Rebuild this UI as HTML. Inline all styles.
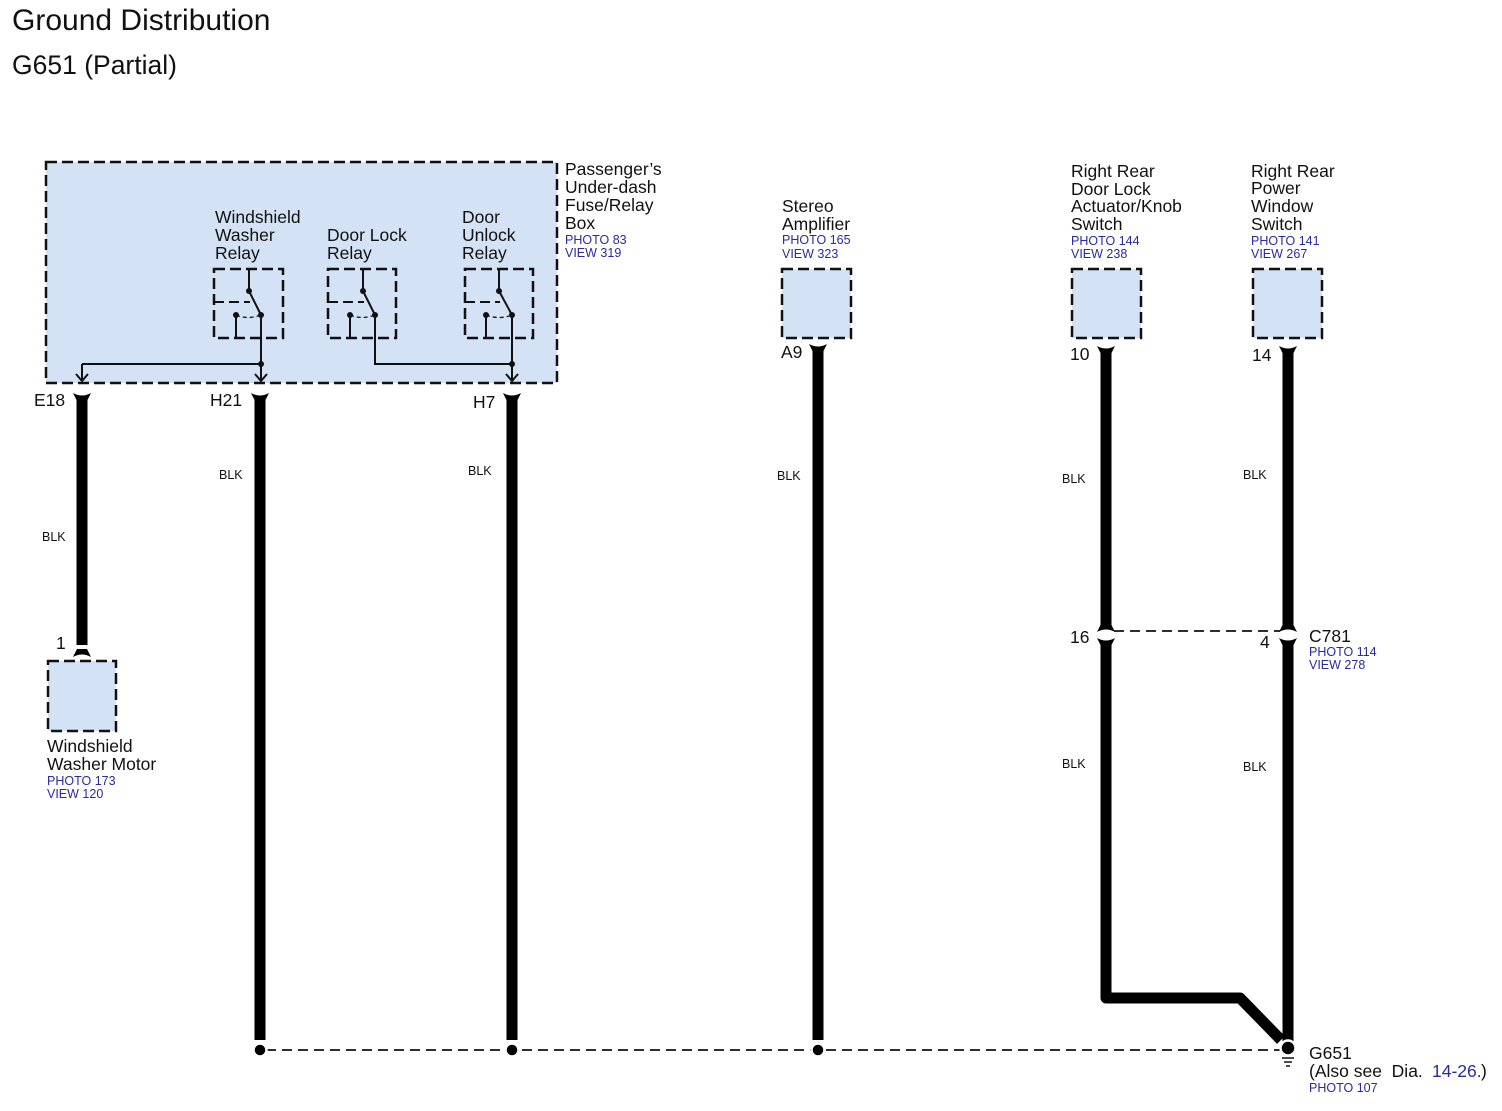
<!DOCTYPE html>
<html><head><meta charset="utf-8"><style>
html,body{margin:0;padding:0;background:#fff;}
svg{display:block;font-family:"Liberation Sans",Arial,sans-serif;}
.l{font-size:17.5px;fill:#111;}
.b{font-size:12.5px;fill:#2a2aa0;}
.k{font-size:12.5px;fill:#111;}
.box{fill:#d3e3f5;stroke:#111;stroke-width:2.5;stroke-dasharray:11 5;}
.w{stroke:#000;stroke-width:11;fill:none;}
.t{stroke:#111;stroke-width:2;fill:none;}
</style></head><body>
<svg width="1502" height="1111" viewBox="0 0 1502 1111">
<defs>
<path id="ct" d="M-9 0 Q0 5 9 0 L5 8 L-5 8 Z" fill="#000"/>
<path id="cb" d="M-5 -8 L5 -8 L9 0 Q0 -5 -9 0 Z" fill="#000"/>
</defs>
<text x="12" y="30" style="font-size:30px" fill="#111">Ground Distribution</text>
<text x="12" y="74" style="font-size:26.5px" fill="#111">G651 (Partial)</text>

<rect x="46" y="162" width="511" height="221" class="box"/>
<text class="l"><tspan x="565" y="175">Passenger’s</tspan><tspan x="565" y="193">Under-dash</tspan><tspan x="565" y="211">Fuse/Relay</tspan><tspan x="565" y="229">Box</tspan></text>
<text class="b"><tspan x="565" y="244">PHOTO 83</tspan><tspan x="565" y="257">VIEW 319</tspan></text>

<text class="l"><tspan x="215" y="223">Windshield</tspan><tspan x="215" y="241">Washer</tspan><tspan x="215" y="259">Relay</tspan></text>
<text class="l"><tspan x="327" y="241">Door Lock</tspan><tspan x="327" y="259">Relay</tspan></text>
<text class="l"><tspan x="462" y="223">Door</tspan><tspan x="462" y="241">Unlock</tspan><tspan x="462" y="259">Relay</tspan></text>

<rect x="214" y="269" width="69" height="69" fill="none" stroke="#111" stroke-width="2.5" stroke-dasharray="11 5"/>
<rect x="328" y="269" width="68" height="69" fill="none" stroke="#111" stroke-width="2.5" stroke-dasharray="11 5"/>
<rect x="465" y="269" width="68" height="69" fill="none" stroke="#111" stroke-width="2.5" stroke-dasharray="11 5"/>
<g class="t">
<path d="M249 269 V291 L261 315 M236 315 V338"/>
<path d="M363 269 V291 L375 315 M350 315 V338"/>
<path d="M499 269 V291 L512 315 M486 315 V338"/>
<path d="M214 302 H250 M328 302 H364 M465 302 H500" stroke-dasharray="10 5"/>
<path d="M236 315 Q248 320 261 315 M350 315 Q362 320 375 315 M486 315 Q499 320 512 315" stroke-width="1.3" stroke-dasharray="4 3"/>
<path d="M261 315 V380 M82 364 H261 M82 364 V380"/>
<path d="M375 315 V364 H512 M512 315 V380"/>
<path d="M76 374 L82 381 L88 374 M255 374 L261 381 L267 374 M506 374 L512 381 L518 374"/>
</g>
<g fill="#111">
<circle cx="249" cy="291" r="3"/><circle cx="261" cy="315" r="3"/><circle cx="236" cy="315" r="3"/>
<circle cx="363" cy="291" r="3"/><circle cx="375" cy="315" r="3"/><circle cx="350" cy="315" r="3"/>
<circle cx="499" cy="291" r="3"/><circle cx="512" cy="315" r="3"/><circle cx="486" cy="315" r="3"/>
<circle cx="261" cy="364" r="3"/><circle cx="512" cy="364" r="3"/>
</g>

<rect x="782" y="269" width="69" height="69" class="box"/>
<rect x="1072" y="269" width="69" height="69" class="box"/>
<rect x="1253" y="269" width="69" height="69" class="box"/>
<rect x="48" y="661" width="68" height="70" class="box"/>

<text class="l"><tspan x="782" y="212">Stereo</tspan><tspan x="782" y="230">Amplifier</tspan></text>
<text class="b"><tspan x="782" y="244">PHOTO 165</tspan><tspan x="782" y="258">VIEW 323</tspan></text>
<text class="l"><tspan x="1071" y="177">Right Rear</tspan><tspan x="1071" y="195">Door Lock</tspan><tspan x="1071" y="212">Actuator/Knob</tspan><tspan x="1071" y="230">Switch</tspan></text>
<text class="b"><tspan x="1071" y="245">PHOTO 144</tspan><tspan x="1071" y="258">VIEW 238</tspan></text>
<text class="l"><tspan x="1251" y="177">Right Rear</tspan><tspan x="1251" y="194">Power</tspan><tspan x="1251" y="212">Window</tspan><tspan x="1251" y="230">Switch</tspan></text>
<text class="b"><tspan x="1251" y="245">PHOTO 141</tspan><tspan x="1251" y="258">VIEW 267</tspan></text>
<text class="l"><tspan x="47" y="752">Windshield</tspan><tspan x="47" y="770">Washer Motor</tspan></text>
<text class="b"><tspan x="47" y="785">PHOTO 173</tspan><tspan x="47" y="798">VIEW 120</tspan></text>

<path class="w" d="M82 399 V645"/>
<path class="w" d="M260 399 V1040"/>
<path class="w" d="M512 399 V1040"/>
<path class="w" d="M818 350 V1040"/>
<path class="w" d="M1106 352 V626"/>
<path class="w" d="M1106 644 V998 H1240 L1281 1040" stroke-linejoin="round"/>
<path class="w" d="M1288 352 V626"/>
<path class="w" d="M1288 644 V1042"/>

<use href="#ct" x="82" y="393"/><use href="#ct" x="260" y="393"/><use href="#ct" x="512" y="393"/>
<use href="#ct" x="818" y="344"/><use href="#ct" x="1106" y="346"/><use href="#ct" x="1288" y="346"/>
<use href="#cb" x="82" y="657"/>
<use href="#cb" x="1106" y="632"/><use href="#cb" x="1288" y="632"/>
<use href="#ct" x="1106" y="638"/><use href="#ct" x="1288" y="638"/>

<text class="l" x="34" y="406">E18</text>
<text class="l" x="210" y="406">H21</text>
<text class="l" x="473" y="408">H7</text>
<text class="l" x="781" y="358">A9</text>
<text class="l" x="1070" y="360">10</text>
<text class="l" x="1252" y="361">14</text>
<text class="l" x="56" y="649">1</text>
<text class="l" x="1070" y="643">16</text>
<text class="l" x="1260" y="648">4</text>
<text class="l" x="1309" y="642">C781</text>
<text class="b"><tspan x="1309" y="656">PHOTO 114</tspan><tspan x="1309" y="669">VIEW 278</tspan></text>

<text class="k" x="42" y="541">BLK</text>
<text class="k" x="219" y="479">BLK</text>
<text class="k" x="468" y="475">BLK</text>
<text class="k" x="777" y="480">BLK</text>
<text class="k" x="1062" y="483">BLK</text>
<text class="k" x="1243" y="479">BLK</text>
<text class="k" x="1062" y="768">BLK</text>
<text class="k" x="1243" y="771">BLK</text>

<path d="M1114 631 H1280" stroke="#111" stroke-width="1.8" stroke-dasharray="10 6"/>
<path d="M266 1050 H1282" stroke="#111" stroke-width="1.8" stroke-dasharray="10 6"/>
<g fill="#000" stroke="#fff" stroke-width="2.5">
<circle cx="260" cy="1050" r="6.5"/><circle cx="512" cy="1050" r="6.5"/><circle cx="818" cy="1050" r="6.5"/><circle cx="1288" cy="1048" r="7.5"/>
</g>
<path d="M1282 1058 H1294 M1284 1062 H1292 M1286 1066 H1290" stroke="#111" stroke-width="1.5"/>
<text class="l" x="1309" y="1059">G651</text>
<text class="l" x="1309" y="1077">(Also see&#160; Dia.</text>
<text class="l" x="1432" y="1077" style="fill:#2a2aa0">14-26.</text>
<text class="l" x="1481" y="1077">)</text>
<text class="b" x="1309" y="1092">PHOTO 107</text>
</svg>
</body></html>
